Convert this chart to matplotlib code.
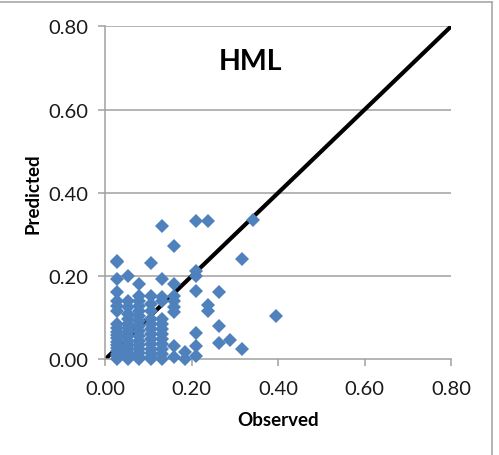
import matplotlib
matplotlib.use("Agg")
import matplotlib.pyplot as plt
from matplotlib.lines import Line2D

plt.rcParams['font.family'] = ['Lato', 'DejaVu Sans']

# Observed values per column and their predicted values
col_obs = [0.026, 0.053, 0.079, 0.105, 0.132, 0.158, 0.184, 0.211,
           0.237, 0.263, 0.289, 0.316, 0.342, 0.395]
col_pred = [
    [0.237, 0.233, 0.193, 0.161, 0.141, 0.129, 0.117, 0.085, 0.075, 0.065,
     0.058, 0.050, 0.042, 0.035, 0.028, 0.020, 0.013, 0.007, 0.0],
    [0.200, 0.141, 0.125, 0.109, 0.097, 0.085, 0.075, 0.065, 0.055, 0.045,
     0.035, 0.025, 0.015, 0.007, 0.0],
    [0.181, 0.153, 0.141, 0.129, 0.117, 0.105, 0.093, 0.081, 0.069, 0.057,
     0.045, 0.035, 0.025, 0.015, 0.005, 0.0],
    [0.231, 0.153, 0.133, 0.117, 0.097, 0.085, 0.073, 0.061, 0.049, 0.037,
     0.025, 0.015, 0.005, 0.0],
    [0.320, 0.193, 0.149, 0.141, 0.097, 0.085, 0.073, 0.061, 0.049, 0.037,
     0.025, 0.013, 0.0],
    [0.271, 0.181, 0.153, 0.141, 0.125, 0.113, 0.033, 0.005],
    [0.017, 0.0],
    [0.333, 0.213, 0.200, 0.163, 0.062, 0.033, 0.007],
    [0.333, 0.130, 0.117],
    [0.161, 0.079, 0.039],
    [0.047],
    [0.241, 0.025],
    [0.335],
    [0.105],
]
line_x = [0.0, 0.8]
line_y = [0.0, 0.8]
ticks = [0.0, 0.2, 0.4, 0.6, 0.8]
tick_labels = ["0.00", "0.20", "0.40", "0.60", "0.80"]

observed = []
predicted = []
for xo, ys in zip(col_obs, col_pred):
    for yv in ys:
        observed.append(xo)
        predicted.append(yv)

fig = plt.figure(figsize=(4.99, 4.56), dpi=100)
ax = fig.add_axes([0.211, 0.210, 0.693, 0.730])

grid_c = '#A0A0A0'
for t in ticks[1:]:
    ax.axhline(t, color=grid_c, lw=1.1, zorder=1)

ax.plot(line_x, line_y, color='black', lw=3.0, zorder=2, solid_capstyle='butt')
ax.plot(observed, predicted, linestyle='none', marker='D', markersize=7.3,
        color='#4F81BD', markeredgewidth=0, zorder=3, clip_on=False)

ax.set_xlim(0, 0.8)
ax.set_ylim(0, 0.8)
ax.set_xticks(ticks)
ax.set_xticklabels(tick_labels)
ax.set_yticks(ticks)
ax.set_yticklabels(tick_labels)

for s in ['top', 'right']:
    ax.spines[s].set_visible(False)
for s in ['left', 'bottom']:
    ax.spines[s].set_color(grid_c)
    ax.spines[s].set_linewidth(1.1)
ax.tick_params(axis='both', colors=grid_c, length=5, width=1.1,
               labelcolor='#1a1a1a', labelsize=14.5)
ax.tick_params(axis='y', pad=7)
ax.tick_params(axis='x', pad=10)

ax.set_xlabel('Observed', fontsize=13.5, fontweight='bold', labelpad=10)
ax.set_ylabel('Predicted', fontsize=13.5, fontweight='bold', labelpad=5)

fig.text(250.7 / 499, 1 - 61.7 / 456, 'HML', fontsize=20.5, fontweight='bold',
         ha='center', va='center')

# outer frame (top and right edges visible)
fig.add_artist(Line2D([0, 492 / 499], [1 - 3.3 / 456, 1 - 3.3 / 456],
                      transform=fig.transFigure, color='#A8A8A8', lw=1.2))
fig.add_artist(Line2D([492 / 499, 492 / 499], [0, 1 - 3.3 / 456],
                      transform=fig.transFigure, color='#A8A8A8', lw=1.2))

fig.savefig('out.png', dpi=100)
